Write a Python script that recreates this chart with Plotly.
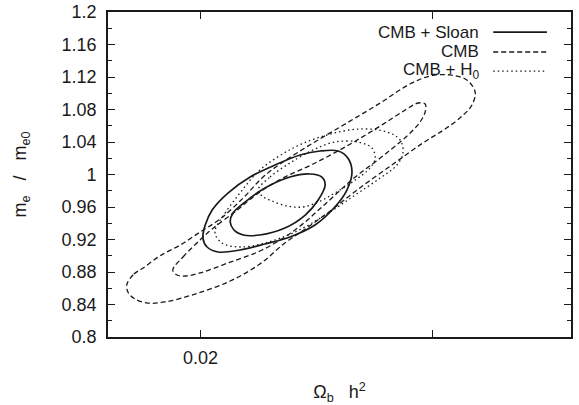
import plotly.graph_objects as go

# ---- data ----
# CMB, outer (2 sigma) contour
cmb_out_x = [0.01841, 0.01856, 0.01876, 0.01912, 0.01956, 0.01999, 0.02042, 0.02092, 0.02135,
             0.02178, 0.02243, 0.02316, 0.02388, 0.02452, 0.02496, 0.02539, 0.02575, 0.02593,
             0.02586, 0.02565, 0.02528, 0.02480, 0.02416, 0.02338, 0.02280, 0.02226, 0.02182,
             0.02128, 0.02064, 0.01988, 0.01923, 0.01886, 0.01858, 0.01843, 0.01841]
cmb_out_y = [0.8652, 0.8775, 0.8849, 0.8997, 0.9132, 0.9292, 0.9452, 0.9711, 0.9969,
             1.0154, 1.0388, 1.0634, 1.0880, 1.1114, 1.1212, 1.1225, 1.1163, 1.1015,
             1.0855, 1.0720, 1.0560, 1.0388, 1.0129, 0.9809, 0.9551, 0.9329, 0.9157,
             0.8898, 0.8689, 0.8529, 0.8431, 0.8418, 0.8468, 0.8554, 0.8652]
# CMB, inner (1 sigma) contour
cmb_in_x = [0.01940, 0.01962, 0.01992, 0.02025, 0.02079, 0.02122, 0.02178, 0.02243, 0.02316,
            0.02388, 0.02442, 0.02470, 0.02485, 0.02485, 0.02474, 0.02457, 0.02431, 0.02388,
            0.02329, 0.02262, 0.02204, 0.02133, 0.02059, 0.01999, 0.01968, 0.01949, 0.01940]
cmb_in_y = [0.8825, 0.8985, 0.9157, 0.9329, 0.9563, 0.9760, 0.9957, 1.0129, 1.0351,
            1.0597, 1.0794, 1.0880, 1.0868, 1.0769, 1.0646, 1.0535, 1.0400, 1.0203,
            0.9945, 0.9600, 0.9317, 0.9071, 0.8911, 0.8788, 0.8751, 0.8763, 0.8825]
# CMB + Sloan, outer contour
sl_out_x = [0.02005, 0.02010, 0.02025, 0.02059, 0.02107, 0.02161, 0.02215, 0.02258, 0.02297,
            0.02318, 0.02327, 0.02316, 0.02290, 0.02247, 0.02193, 0.02139, 0.02085, 0.02038,
            0.02014, 0.02005]
sl_out_y = [0.9218, 0.9378, 0.9563, 0.9772, 0.9969, 1.0117, 1.0240, 1.0289, 1.0289,
            1.0203, 1.0031, 0.9809, 0.9600, 0.9378, 0.9231, 0.9145, 0.9071, 0.9046,
            0.9108, 0.9218]
# CMB + Sloan, inner contour
sl_in_x = [0.02064, 0.02070, 0.02096, 0.02139, 0.02193, 0.02236, 0.02262, 0.02269, 0.02254,
           0.02226, 0.02182, 0.02128, 0.02092, 0.02072, 0.02064]
sl_in_y = [0.9415, 0.9526, 0.9661, 0.9834, 0.9969, 1.0006, 0.9969, 0.9871, 0.9686,
           0.9501, 0.9341, 0.9255, 0.9255, 0.9317, 0.9415]
# CMB + H0, outer contour
h0_out_x = [0.02031, 0.02053, 0.02085, 0.02128, 0.02200, 0.02273, 0.02344, 0.02403, 0.02431,
            0.02437, 0.02424, 0.02388, 0.02334, 0.02269, 0.02204, 0.02139, 0.02085, 0.02046,
            0.02031]
h0_out_y = [0.9292, 0.9526, 0.9772, 1.0055, 1.0326, 1.0486, 1.0560, 1.0523, 1.0425,
            1.0265, 1.0117, 0.9957, 0.9748, 0.9501, 0.9292, 0.9157, 0.9108, 0.9157,
            0.9292]
# CMB + H0, inner contour
h0_in_x = [0.02124, 0.02150, 0.02193, 0.02243, 0.02290, 0.02340, 0.02370, 0.02377, 0.02366,
           0.02334, 0.02290, 0.02254, 0.02221, 0.02187, 0.02154, 0.02133, 0.02124]
h0_in_y = [0.9809, 0.9969, 1.0142, 1.0302, 1.0400, 1.0400, 1.0326, 1.0203, 1.0080,
           0.9932, 0.9772, 0.9661, 0.9600, 0.9612, 0.9674, 0.9735, 0.9809]

legend_labels = ["CMB + Sloan", "CMB", "CMB + H<sub>0</sub>"]
x_tickvals = [0.02]
x_ticktext = ["0.02"]
y_tickvals = [0.8, 0.84, 0.88, 0.92, 0.96, 1.0, 1.04, 1.08, 1.12, 1.16, 1.2]
y_ticktext = ["0.8", "0.84", "0.88", "0.92", "0.96", "1", "1.04", "1.08", "1.12", "1.16", "1.2"]

INK = "#1a1a1a"
FONT = "Liberation Sans, Arial, sans-serif"
styles = {
    "solid": dict(color=INK, width=1.7, dash="solid"),
    "dash": dict(color=INK, width=1.3, dash="5px,3px"),
    "dot": dict(color=INK, width=1.3, dash="1.5px,3px"),
}

fig = go.Figure()
series = [
    (cmb_out_x, cmb_out_y, "dash", "CMB"),
    (cmb_in_x, cmb_in_y, "dash", "CMB"),
    (h0_out_x, h0_out_y, "dot", "CMB + H0"),
    (h0_in_x, h0_in_y, "dot", "CMB + H0"),
    (sl_out_x, sl_out_y, "solid", "CMB + Sloan"),
    (sl_in_x, sl_in_y, "solid", "CMB + Sloan"),
]
for xs, ys, st, nm in series:
    ln = dict(styles[st])
    ln["shape"] = "spline"
    ln["smoothing"] = 1.0
    fig.add_trace(go.Scatter(x=xs, y=ys, mode="lines", line=ln, name=nm,
                             showlegend=False, hoverinfo="skip"))

# legend drawn on the right-hand side (text, then line sample)
rows_y = [0.938, 0.877, 0.818]
for lab, yy, st in zip(legend_labels, rows_y, ["solid", "dash", "dot"]):
    fig.add_annotation(x=0.803, y=yy, xref="paper", yref="paper", text=lab,
                       showarrow=False, xanchor="right", yanchor="middle", borderpad=0,
                       font=dict(family=FONT, size=17, color=INK))
    fig.add_shape(type="line", xref="paper", yref="paper", x0=0.832, x1=0.948,
                  y0=yy, y1=yy, line=styles[st])

axis_common = dict(showline=True, linecolor=INK, linewidth=1.6, mirror="allticks",
                   ticks="inside", tickcolor=INK, tickwidth=1.2, ticklen=7,
                   showgrid=False, zeroline=False, automargin=False,
                   tickfont=dict(family=FONT, size=18, color=INK))

fig.update_xaxes(range=[0.018, 0.028], tickmode="array", tickvals=x_tickvals,
                 ticktext=x_ticktext, ticklabelstandoff=4,
                 minor=dict(ticks="inside", ticklen=7, tickcolor=INK, tickwidth=1.2,
                            tick0=0.02, dtick=0.005, showgrid=False),
                 title=dict(text="Ω<sub>b</sub>\u00a0\u00a0\u00a0h<sup>2</sup>", standoff=20,
                            font=dict(family=FONT, size=18, color=INK)),
                 **axis_common)
fig.update_yaxes(range=[0.8, 1.2], tickmode="array", tickvals=y_tickvals,
                 ticktext=y_ticktext, ticklabelstandoff=6,
                 minor=dict(ticks="inside", ticklen=4, tickcolor=INK, tickwidth=1, dtick=0.02,
                            tick0=0.8, showgrid=False),
                 title=dict(text="m<sub>e</sub>\u00a0\u00a0\u00a0/\u00a0\u00a0\u00a0m<sub>e0</sub>",
                            standoff=30, font=dict(family=FONT, size=18, color=INK)),
                 **axis_common)

fig.update_layout(width=579, height=405, margin=dict(l=108, r=8, t=12, b=68),
                  paper_bgcolor="white", plot_bgcolor="white", showlegend=False)

fig.write_html("out.html", config={"displayModeBar": False},
               post_script="document.body.style.margin='0';")
